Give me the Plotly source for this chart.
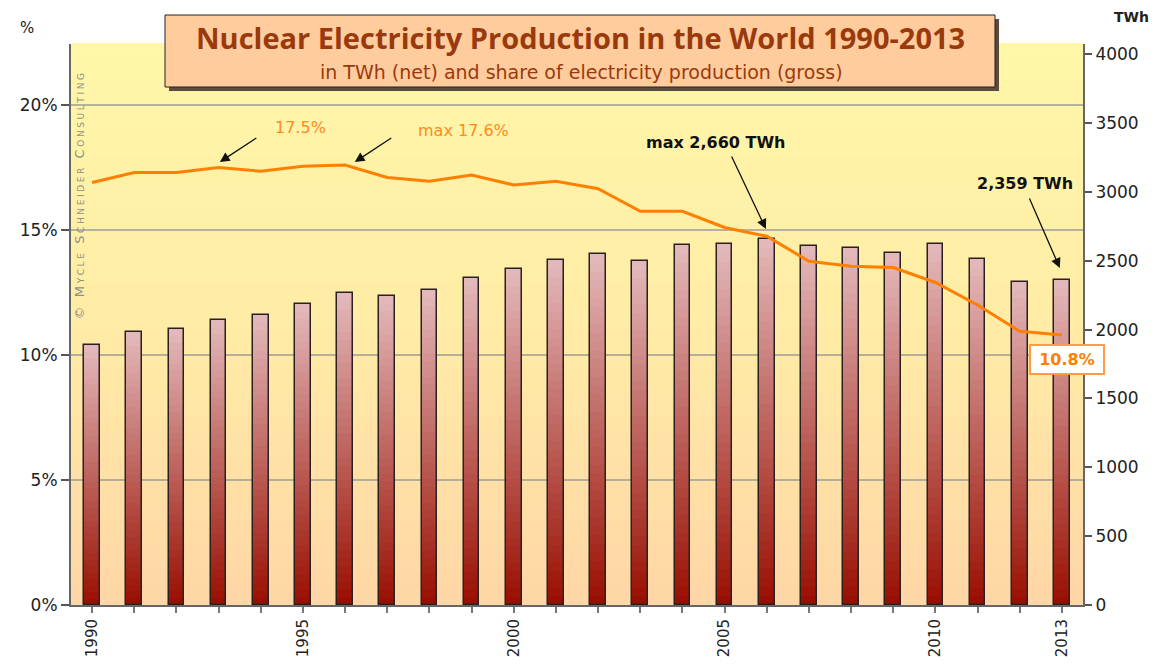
import plotly.graph_objects as go

years = list(range(1990, 2014))
production_twh = [1888, 1983, 2004, 2070, 2106, 2186, 2266, 2244, 2288, 2375, 2440, 2505,
                  2549, 2498, 2614, 2622, 2660, 2607, 2593, 2556, 2622, 2513, 2346, 2359]
share_pct = [16.9, 17.3, 17.3, 17.5, 17.35, 17.55, 17.6, 17.1, 16.95, 17.2, 16.8, 16.95,
             16.65, 15.75, 15.75, 15.1, 14.75, 13.75, 13.55, 13.5, 12.9, 12.0, 10.95, 10.8]
label_years = {1990: "1990", 1995: "1995", 2000: "2000", 2005: "2005", 2010: "2010", 2013: "2013"}
pct_ticks = [0, 5, 10, 15, 20]
pct_labels = ["0%", "5%", "10%", "15%", "20%"]
twh_ticks = [0, 500, 1000, 1500, 2000, 2500, 3000, 3500, 4000]

# page body has an 8px margin: figure is drawn from (8, 8)
OFF = 8
WIN_W, WIN_H = 1157, 668
W, H = WIN_W - OFF, WIN_H - OFF
L, R, T, B = 71, 1083, 44, 605  # plot area in window pixels


def px(xp):
    return (xp - L) / (R - L)


def py(yp):
    return (B - yp) / (B - T)


def lerp(c1, c2, t):
    return "rgb(%d,%d,%d)" % tuple(round(a + (b - a) * t) for a, b in zip(c1, c2))


fig = go.Figure()

# gradient bars: segments of each bar from its own value
N = 40
bottom_c = (152, 14, 0)
top_c = (228, 186, 188)
bw = 0.37
for i in range(N):
    t = (i + 0.5) / N
    fig.add_trace(go.Bar(
        x=years,
        y=[v / N for v in production_twh],
        base=[v * i / N for v in production_twh],
        width=bw,
        marker=dict(color=lerp(bottom_c, top_c, t), line=dict(width=0)),
        yaxis="y", showlegend=False, hoverinfo="skip"))
# outline
fig.add_trace(go.Bar(
    x=years, y=production_twh, width=bw,
    marker=dict(color="rgba(0,0,0,0)", line=dict(color="#2a2020", width=1.5)),
    yaxis="y", showlegend=False, name="TWh"))

fig.add_trace(go.Scatter(
    x=years, y=share_pct, mode="lines",
    line=dict(color="#FF7F00", width=3),
    yaxis="y2", showlegend=False, name="share"))

shapes = []
# plot background gradient
NB = 110
top_bg = (255, 247, 168)
mid_bg = (255, 236, 166)
bot_bg = (255, 214, 166)
for i in range(NB):
    t = i / NB
    if t < 0.5:
        col = lerp(bot_bg, mid_bg, t / 0.5)
    else:
        col = lerp(mid_bg, top_bg, (t - 0.5) / 0.5)
    shapes.append(dict(type="rect", xref="paper", yref="paper",
                       x0=0, x1=1, y0=i / NB, y1=(i + 1) / NB + 0.002,
                       fillcolor=col, line=dict(width=0), layer="below"))

# title box with shadow
shapes.append(dict(type="rect", xref="paper", yref="paper",
                   x0=px(169), x1=px(999), y0=py(91), y1=py(19),
                   fillcolor="#5a4a40", line=dict(width=0), layer="above"))
shapes.append(dict(type="rect", xref="paper", yref="paper",
                   x0=px(165), x1=px(995), y0=py(87), y1=py(15),
                   fillcolor="#FFCC9E", line=dict(color="#222", width=1), layer="above"))


def txt(text, x, y, size, color, family="DejaVu Sans", **kw):
    d = dict(text=text, xref="paper", yref="paper", x=px(x), y=py(y), showarrow=False,
             xanchor="center", yanchor="middle",
             font=dict(family=family, size=size, color=color))
    d.update(kw)
    return d


def arrow(x, y, ax, ay):
    return dict(text="", x=x, y=y, xref="x", yref="y2", showarrow=True,
                ax=ax, ay=ay, arrowhead=2, arrowsize=1.5, arrowwidth=1.3, arrowcolor="#111")


thin = "\u2009"
wm = thin.join("© Mycle Schneider Consulting")

annotations = [
    txt("<b>Nuclear Electricity Production in the World 1990-2013</b>", 580, 38, 29, "#9A3A0C",
        family="Open Sans"),
    txt("in TWh (net) and share of electricity production (gross)", 581, 72, 19, "#9A3A0C",
        family="DejaVu Sans"),
    txt("%", 27, 28, 15, "#222"),
    txt("<b>TWh</b>", 1131, 17, 14, "#222"),
    dict(text=wm, xref="paper", yref="paper", x=px(78.5), y=py(196), showarrow=False,
         textangle=-90, xanchor="center", yanchor="middle",
         font=dict(family="DejaVu Sans", size=13, color="#8f8f88", variant="small-caps")),
    txt("17.5%", 300, 127, 16, "#FF8A1E"),
    txt("max 17.6%", 463, 131, 16, "#FF8A1E"),
    txt("<b>max 2,660 TWh</b>", 716, 142, 16, "#111"),
    txt("<b>2,359 TWh</b>", 1025, 183, 16, "#111"),
    arrow(1993.03, 17.72, 38, -25),
    arrow(1996.23, 17.72, 38, -25),
    arrow(2005.98, 15.04, -35, -74),
    arrow(2012.95, 13.48, -31, -71),
    txt("<b>10.8%</b>", 1067, 359, 16, "#FF7F00",
        bgcolor="white", bordercolor="#FF9A48", borderwidth=2, borderpad=4, width=64),
]

tick_text = [label_years.get(y, "") for y in years]

fig.update_layout(
    width=W, height=H,
    margin=dict(l=L - OFF, r=WIN_W - R, t=T - OFF, b=WIN_H - B, pad=0),
    paper_bgcolor="white", plot_bgcolor="#FFE9A6",
    barmode="overlay", bargap=0,
    shapes=shapes, annotations=annotations,
    xaxis=dict(range=[1989.5, 2013.5], tickmode="array", tickvals=years, ticktext=tick_text,
               tickangle=-90, ticks="outside", ticklen=6, tickcolor="#777", tickwidth=1.5,
               showline=True, linecolor="#666", linewidth=2, showgrid=False, zeroline=False,
               tickfont=dict(family="DejaVu Sans", size=15, color="#222")),
    yaxis=dict(range=[0, 4074], side="right", tickmode="array", tickvals=twh_ticks,
               ticks="outside", ticklen=7, tickcolor="#555", tickwidth=1.5,
               showline=True, linecolor="#666", linewidth=2, showgrid=False, zeroline=False,
               tickfont=dict(family="DejaVu Sans", size=17, color="#222")),
    yaxis2=dict(range=[0, 22.44], side="left", overlaying="y", tickmode="array",
                tickvals=pct_ticks, ticktext=pct_labels,
                ticks="outside", ticklen=8, tickcolor="#555", tickwidth=1.5,
                showline=True, linecolor="#666", linewidth=2,
                showgrid=True, gridcolor="rgba(150,150,150,0.7)", gridwidth=2, zeroline=False,
                tickfont=dict(family="DejaVu Sans", size=17, color="#222")),
)

fig.write_html("out.html")
